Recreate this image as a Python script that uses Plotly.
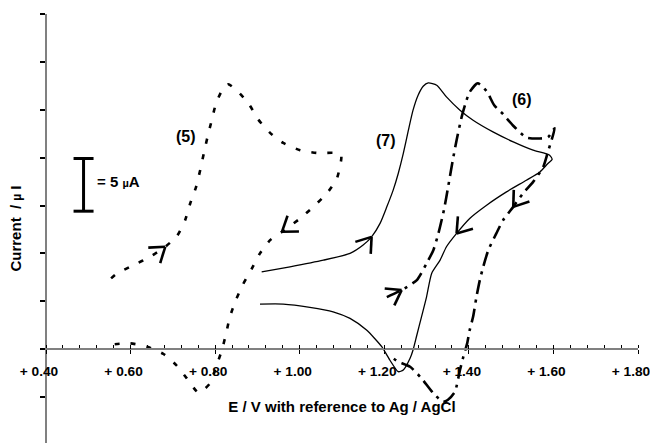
import math
import plotly.graph_objects as go

# ---- data (potential in V vs Ag/AgCl, current in µA) ----
E5 = [0.554, 0.568, 0.607, 0.646, 0.682, 0.710, 0.729, 0.741, 0.755, 0.765, 0.774, 0.782,
      0.792, 0.802, 0.820, 0.831, 0.851, 0.879, 0.902, 0.930, 0.961, 1.001, 1.040, 1.083,
      1.098, 1.088, 1.064, 1.032, 1.001, 0.958, 0.930, 0.906, 0.887, 0.865, 0.849, 0.835,
      0.826, 0.816, 0.802, 0.788, 0.761, 0.733, 0.708, 0.678, 0.639, 0.599, 0.560]
I5 = [6.71, 7.18, 7.97, 8.76, 9.71, 10.75, 12.24, 13.82, 15.40, 17.05, 18.72, 20.14,
      21.73, 23.31, 24.83, 25.14, 24.57, 23.31, 21.79, 20.52, 19.57, 18.88, 18.62, 18.62,
      18.41, 16.20, 14.77, 13.50, 12.40, 11.13, 10.34, 9.08, 7.66, 6.07, 4.65, 3.06,
      1.49, -0.09, -1.71, -3.25, -4.15, -2.78, -1.52, -0.47, 0.22, 0.54, 0.45]

E7 = [0.910, 0.977, 1.056, 1.119, 1.150, 1.170, 1.190, 1.206, 1.221, 1.233, 1.245, 1.257,
      1.268, 1.280, 1.292, 1.304, 1.324, 1.347, 1.379, 1.410, 1.457, 1.505, 1.552, 1.591,
      1.597, 1.587, 1.568, 1.536, 1.489, 1.442, 1.402, 1.371, 1.347, 1.332, 1.312, 1.300,
      1.288, 1.276, 1.268, 1.261, 1.245, 1.233, 1.213, 1.194, 1.158, 1.119, 1.079, 1.024,
      0.961, 0.906]
I7 = [7.33, 7.81, 8.44, 9.08, 9.87, 10.65, 11.93, 13.50, 15.09, 16.67, 18.57, 20.78,
      22.68, 24.10, 24.95, 25.27, 25.05, 23.94, 22.68, 21.73, 20.62, 19.67, 18.88, 18.41,
      18.00, 17.62, 16.82, 16.03, 14.92, 13.66, 12.40, 10.98, 9.71, 8.44, 7.18, 4.96,
      3.06, 1.17, -0.09, -0.88, -1.99, -2.15, -1.04, 0.22, 1.80, 2.91, 3.54, 3.96,
      4.27, 4.27]

E6 = [1.206, 1.241, 1.277, 1.300, 1.316, 1.328, 1.341, 1.351, 1.362, 1.371, 1.383, 1.392,
      1.402, 1.421, 1.442, 1.460, 1.481, 1.505, 1.536, 1.568, 1.587, 1.603, 1.587, 1.576,
      1.552, 1.528, 1.505, 1.481, 1.465, 1.446, 1.434, 1.426, 1.418, 1.410, 1.402, 1.396,
      1.387, 1.379, 1.367, 1.350, 1.339, 1.316, 1.288, 1.261, 1.233, 1.221]
I6 = [4.93, 5.60, 6.55, 8.13, 9.39, 10.98, 13.19, 15.40, 17.93, 19.83, 22.04, 23.31,
      24.41, 25.24, 24.48, 23.15, 22.30, 21.20, 20.09, 19.99, 20.11, 20.97, 18.72, 17.30,
      15.87, 14.77, 13.50, 12.24, 10.98, 9.39, 7.81, 6.55, 4.96, 3.06, 1.80, 0.54,
      -0.73, -1.99, -4.05, -4.84, -5.00, -4.20, -2.78, -1.68, -1.20, -0.88]

# scan-direction arrows: index of the data point each arrow sits on
ARROWS5 = [4, 29]
ARROWS7 = [5, 31]
ARROWS6 = [1, 26]

CURVE_LABELS = ["(5)", "(7)", "(6)"]
LABEL_E = [0.7315, 1.2039, 1.5253]
LABEL_I = [20.21, 19.83, 23.72]

XTICK_VALS = [0.40, 0.60, 0.80, 1.00, 1.20, 1.40, 1.60, 1.80]
XTICK_TEXT = ["+ 0.40", "+ 0.60", "+ 0.80", "+ 1.00", "+ 1.20", "+ 1.40", "+ 1.60", "+ 1.80"]

SCALE_BAR_UA = 5.0
SCALE_BAR_BASE = 13.09
SCALE_BAR_E = 0.4888

# ---- layout geometry ----
W, H = 650, 443
ML, MR, MT, MB = 46, 12, 14, 0
XR = [0.40, 1.80]
YSTEP = 4.543
YR = [-8.92, 7 * YSTEP + 0.01]
PXV = (W - ML - MR) / (XR[1] - XR[0])
PXU = (H - MT - MB) / (YR[1] - YR[0])
XPOS = (0 - YR[0]) / (YR[1] - YR[0])

FONT = "Arial, 'Liberation Sans', sans-serif"

fig = go.Figure()
fig.add_trace(go.Scatter(x=E5, y=I5, mode="lines", name="(5)",
                         line=dict(color="black", width=2.6, dash="5px,11px",
                                   shape="spline", smoothing=0.6)))
fig.add_trace(go.Scatter(x=E7, y=I7, mode="lines", name="(7)",
                         line=dict(color="black", width=1.3, shape="spline", smoothing=0.6)))
fig.add_trace(go.Scatter(x=E6, y=I6, mode="lines", name="(6)",
                         line=dict(color="black", width=2.6, dash="14px,6px,3px,6px",
                                   shape="spline", smoothing=0.6)))
# dummy trace so the overlay axis (major ticks above the line) is drawn
fig.add_trace(go.Scatter(x=[XR[0]], y=[0], xaxis="x2", mode="markers",
                         marker=dict(opacity=0), hoverinfo="skip", showlegend=False))

shapes = []


def chevron(E, I, k, length=17.0, half=35.0):
    x0, y0 = E[k], I[k]
    dxp = (E[k + 1] - E[k - 1]) * PXV
    dyp = (I[k + 1] - I[k - 1]) * PXU
    ang = math.atan2(dyp, dxp)
    out = []
    for s in (1, -1):
        a = ang + math.pi + s * math.radians(half)
        x1 = x0 + length * math.cos(a) / PXV
        y1 = y0 + length * math.sin(a) / PXU
        out.append(dict(type="line", x0=x0, y0=y0, x1=x1, y1=y1,
                        line=dict(color="black", width=2.6)))
    return out


for E, I, ks in ((E5, I5, ARROWS5), (E7, I7, ARROWS7), (E6, I6, ARROWS6)):
    for k in ks:
        shapes += chevron(E, I, k)

# scale bar
cap = 10 / PXV
y_lo, y_hi = SCALE_BAR_BASE, SCALE_BAR_BASE + SCALE_BAR_UA
bar = dict(color="black", width=3)
shapes.append(dict(type="line", x0=SCALE_BAR_E, x1=SCALE_BAR_E, y0=y_lo, y1=y_hi, line=bar))
shapes.append(dict(type="line", x0=SCALE_BAR_E - cap, x1=SCALE_BAR_E + cap, y0=y_lo, y1=y_lo, line=bar))
shapes.append(dict(type="line", x0=SCALE_BAR_E - cap, x1=SCALE_BAR_E + cap, y0=y_hi, y1=y_hi, line=bar))

annotations = [dict(x=SCALE_BAR_E + cap, y=(y_lo + y_hi) / 2 + 0.3, xanchor="left", yanchor="middle",
                    text="= 5 <span style='font-size:11px'>µ</span>A", showarrow=False,
                    xshift=1, font=dict(family=FONT, size=15, color="black", weight=700))]
for t, e, i in zip(CURVE_LABELS, LABEL_E, LABEL_I):
    annotations.append(dict(x=e, y=i, text=t, showarrow=False,
                            font=dict(family=FONT, size=16, color="black", weight=700)))

fig.update_layout(
    width=W, height=H,
    margin=dict(l=ML, r=MR, t=MT, b=MB, autoexpand=False),
    paper_bgcolor="white", plot_bgcolor="white",
    showlegend=False,
    shapes=shapes, annotations=annotations,
    xaxis=dict(range=XR, anchor="free", position=XPOS, showgrid=False, zeroline=False,
               showline=True, linecolor="#808080", linewidth=2,
               tickmode="array", tickvals=XTICK_VALS, ticktext=XTICK_TEXT,
               ticks="outside", ticklen=4, tickwidth=1, tickcolor="black",
               minor=dict(dtick=0.04, ticks="inside", ticklen=3, tickwidth=1, tickcolor="black"),
               tickfont=dict(family=FONT, size=13.7, color="black", weight=700),
               ticklabelshift=-7, ticklabelstandoff=6, ticklabeloverflow="allow",
               title=dict(text="E / V with reference to Ag / AgCl", standoff=22,
                          font=dict(family=FONT, size=15, color="black", weight=700))),
    xaxis2=dict(range=XR, overlaying="x", anchor="free", position=XPOS, showgrid=False,
                zeroline=False, showline=False, tickmode="array", tickvals=XTICK_VALS,
                ticks="inside", ticklen=4, tickwidth=1, tickcolor="black",
                showticklabels=False),
    yaxis=dict(range=YR, anchor="free", position=0, showgrid=False, zeroline=False,
               showline=True, linecolor="#808080", linewidth=2,
               tick0=0, dtick=YSTEP, ticks="outside", ticklen=5, tickwidth=1.5,
               tickcolor="black", showticklabels=False,
               title=dict(text="Current  / <span style='font-size:12px'>µ</span> I", standoff=14,
                          font=dict(family=FONT, size=15, color="black", weight=700))),
)

fig.write_html("out.html")
